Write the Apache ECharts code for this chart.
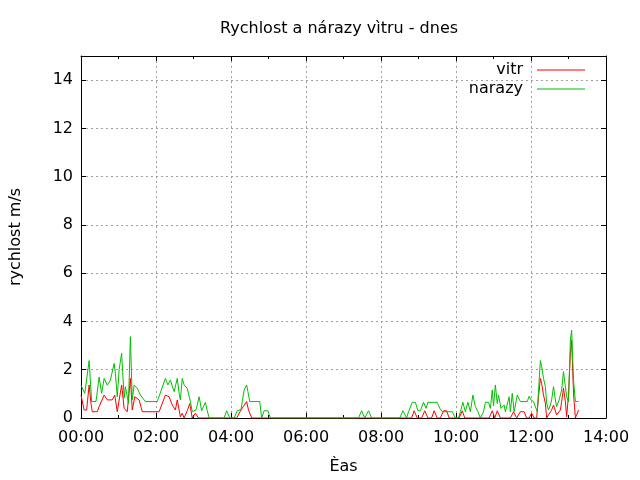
<!DOCTYPE html>
<html>
<head>
<meta charset="utf-8">
<script src="https://cdn.jsdelivr.net/npm/echarts@6/dist/echarts.min.js"></script>
<style>html,body{margin:0;padding:0;background:#fff}#c{width:640px;height:480px}</style>
</head>
<body>
<div id="c"></div>
<script>
// minutes since midnight and speeds in m/s
const vitrMin = [0,3,5,9,13,16,18,26,29,37,42,50,54,58,65,69,74,79,82,86,93,98,125,135,141,146,151,154,157,159,162,165,170,174,178,183,186,188,249,256,265,268,273,529,533,538,545,550,555,561,565,570,575,580,585,589,605,610,614,653,658,662,666,671,687,692,697,699,703,709,713,717,721,725,729,732,735,737,740,743,745,748,753,756,761,767,769,772,775,777,780,783,785,788,791,793,796];
const vitrMs = [0.95,0.95,0.33,0.33,1.37,0.60,0.26,0.26,0.47,0.95,0.75,0.75,0.95,0.26,1.37,0.40,0.26,1.64,0.33,0.88,0.75,0.26,0.26,0.95,0.88,0.54,0.33,0.75,0.33,0.05,0.20,0,0.30,0.60,0,0.20,0.26,0,0,0.33,0.68,0.33,0,0,0.30,0,0,0.30,0,0,0.30,0,0,0.30,0.30,0,0,0.30,0,0,0.30,0,0.30,0,0,0.26,0,0,0.26,0.26,0,0,0.20,0,0,0.88,1.64,1.44,0.95,0.61,0,0.13,0.33,0.54,0.13,0.33,0.68,1.23,0.68,0.05,0.95,2.68,3.23,1.02,0,0.13,0.33];
const narazyMin = [0,3,6,13,17,24,29,33,37,42,47,53,55,58,61,65,69,71,76,79,82,85,90,95,103,122,135,139,143,149,154,157,159,162,165,170,172,175,178,184,189,193,199,202,205,229,233,238,245,250,256,258,261,265,267,270,286,289,293,299,303,444,449,454,460,465,510,515,521,524,530,535,539,543,548,552,555,570,574,578,594,599,604,607,611,615,619,623,627,631,635,639,644,647,652,655,658,660,663,666,668,672,677,679,685,687,690,693,698,703,714,717,720,724,727,730,735,737,740,743,745,748,751,753,756,759,761,765,769,772,775,777,780,783,785,788,791,796];
const narazyMs = [1.36,1.36,1.02,2.38,0.68,0.68,1.70,1.02,1.64,1.36,1.57,2.26,1.85,0.88,2.00,2.68,0.82,1.30,0.61,3.37,0.75,1.36,1.23,0.95,0.68,0.68,1.64,1.37,1.57,1.09,1.64,1.02,0.75,1.64,1.37,1.23,1.23,0.68,0.26,0.33,0.88,0.30,0.65,0.30,0,0,0.30,0,0,0.30,0.35,0.68,1.16,1.37,1.10,0.68,0.68,0,0.30,0.30,0,0,0.30,0,0.30,0,0,0.30,0,0.26,0.65,0.65,0.30,0.30,0.65,0.40,0.65,0.65,0.40,0.26,0.26,0,0,0.26,0.65,0.26,0.65,0.26,0.95,0.47,0.26,0,0.26,0.65,0.65,0.40,1.16,0.50,1.37,0.60,0.95,0.40,0.54,0.26,0.88,0.26,1.02,0.26,0.95,0.68,0.68,0.90,0.75,0.68,0.68,0.26,2.38,2.13,1.64,1.30,0.61,0.33,0.54,0.75,1.30,0.75,0.47,0.75,1.16,1.92,1.30,0.88,0.68,3.23,3.64,1.57,0.68,0.68];

const seriesNames = ['vitr', 'narazy'];
const seriesColors = ['#ff0000', '#00c000'];
const titleText = 'Rychlost a nárazy vìtru - dnes';
const xTitle = 'Èas';
const yTitle = 'rychlost m/s';

const FONT = 'DejaVu Sans';
const zip = (a, b) => a.map((t, i) => [t, b[i]]);
const pad = n => (n < 10 ? '0' : '') + n;
const fmtTime = v => pad(Math.floor(v / 60)) + ':' + pad(v % 60);

const tickStyle = { color: '#000', width: 1 };
const gridLine = { show: true, lineStyle: { color: '#a0a0a0', width: 1, type: [2, 3] } };

const chart = echarts.init(document.getElementById('c'), null, { renderer: 'canvas' });
chart.setOption({
  animation: false,
  backgroundColor: '#fff',
  title: {
    text: titleText, left: 215, top: 16, padding: 5,
    textStyle: { fontFamily: FONT, fontSize: 16, fontWeight: 'normal', color: '#000' }
  },
  legend: {
    data: seriesNames.map((n, i) => ({ name: n, icon: 'rect', itemStyle: { color: seriesColors[i] } })),
    orient: 'vertical', align: 'right',
    right: 55, top: 62, padding: 0, itemGap: 3, itemWidth: 48, itemHeight: 1,
    textStyle: { fontFamily: FONT, fontSize: 16, color: '#000', padding: [0, 9, 0, 0] }
  },
  grid: { left: 80, right: 34, top: 56, bottom: 62, containLabel: false },
  xAxis: [{
    type: 'value', min: 0, max: 840, interval: 120, position: 'bottom',
    name: xTitle, nameLocation: 'middle', nameGap: 41,
    nameTextStyle: { fontFamily: FONT, fontSize: 16, color: '#000' },
    axisLine: { show: true, onZero: false, lineStyle: tickStyle },
    axisTick: { show: true, inside: true, length: 5, lineStyle: tickStyle },
    minorTick: { show: true, splitNumber: 2, length: 3, lineStyle: tickStyle },
    axisLabel: { fontFamily: FONT, fontSize: 16, color: '#000', margin: 12, formatter: fmtTime },
    splitLine: gridLine
  }, {
    type: 'value', min: 0, max: 840, interval: 120, position: 'top',
    axisLine: { show: true, onZero: false, lineStyle: tickStyle },
    axisTick: { show: true, inside: true, length: 5, lineStyle: tickStyle },
    minorTick: { show: true, splitNumber: 2, length: 3, lineStyle: tickStyle },
    axisLabel: { show: false }, splitLine: { show: false }
  }],
  yAxis: [{
    type: 'value', min: 0, max: 15, interval: 2, position: 'left',
    name: yTitle, nameLocation: 'middle', nameGap: 57, nameRotate: 90,
    nameTextStyle: { fontFamily: FONT, fontSize: 16, color: '#000' },
    axisLine: { show: true, onZero: false, lineStyle: tickStyle },
    axisTick: { show: true, inside: true, length: 5, lineStyle: tickStyle },
    axisLabel: { fontFamily: FONT, fontSize: 16, color: '#000', margin: 8,
      formatter: v => (v % 2 === 0 ? String(v) : '') },
    splitLine: gridLine
  }, {
    type: 'value', min: 0, max: 15, interval: 2, position: 'right',
    axisLine: { show: true, onZero: false, lineStyle: tickStyle },
    axisTick: { show: true, inside: true, length: 5, lineStyle: tickStyle },
    axisLabel: { show: false }, splitLine: { show: false }
  }],
  series: [{
    name: seriesNames[0], type: 'line', data: zip(vitrMin, vitrMs),
    symbol: 'none', showSymbol: false, xAxisIndex: 0, yAxisIndex: 0,
    lineStyle: { color: seriesColors[0], width: 1 }, itemStyle: { color: seriesColors[0] }
  }, {
    name: seriesNames[1], type: 'line', data: zip(narazyMin, narazyMs),
    symbol: 'none', showSymbol: false, xAxisIndex: 0, yAxisIndex: 0,
    lineStyle: { color: seriesColors[1], width: 1 }, itemStyle: { color: seriesColors[1] }
  }]
});
</script>
</body>
</html>
